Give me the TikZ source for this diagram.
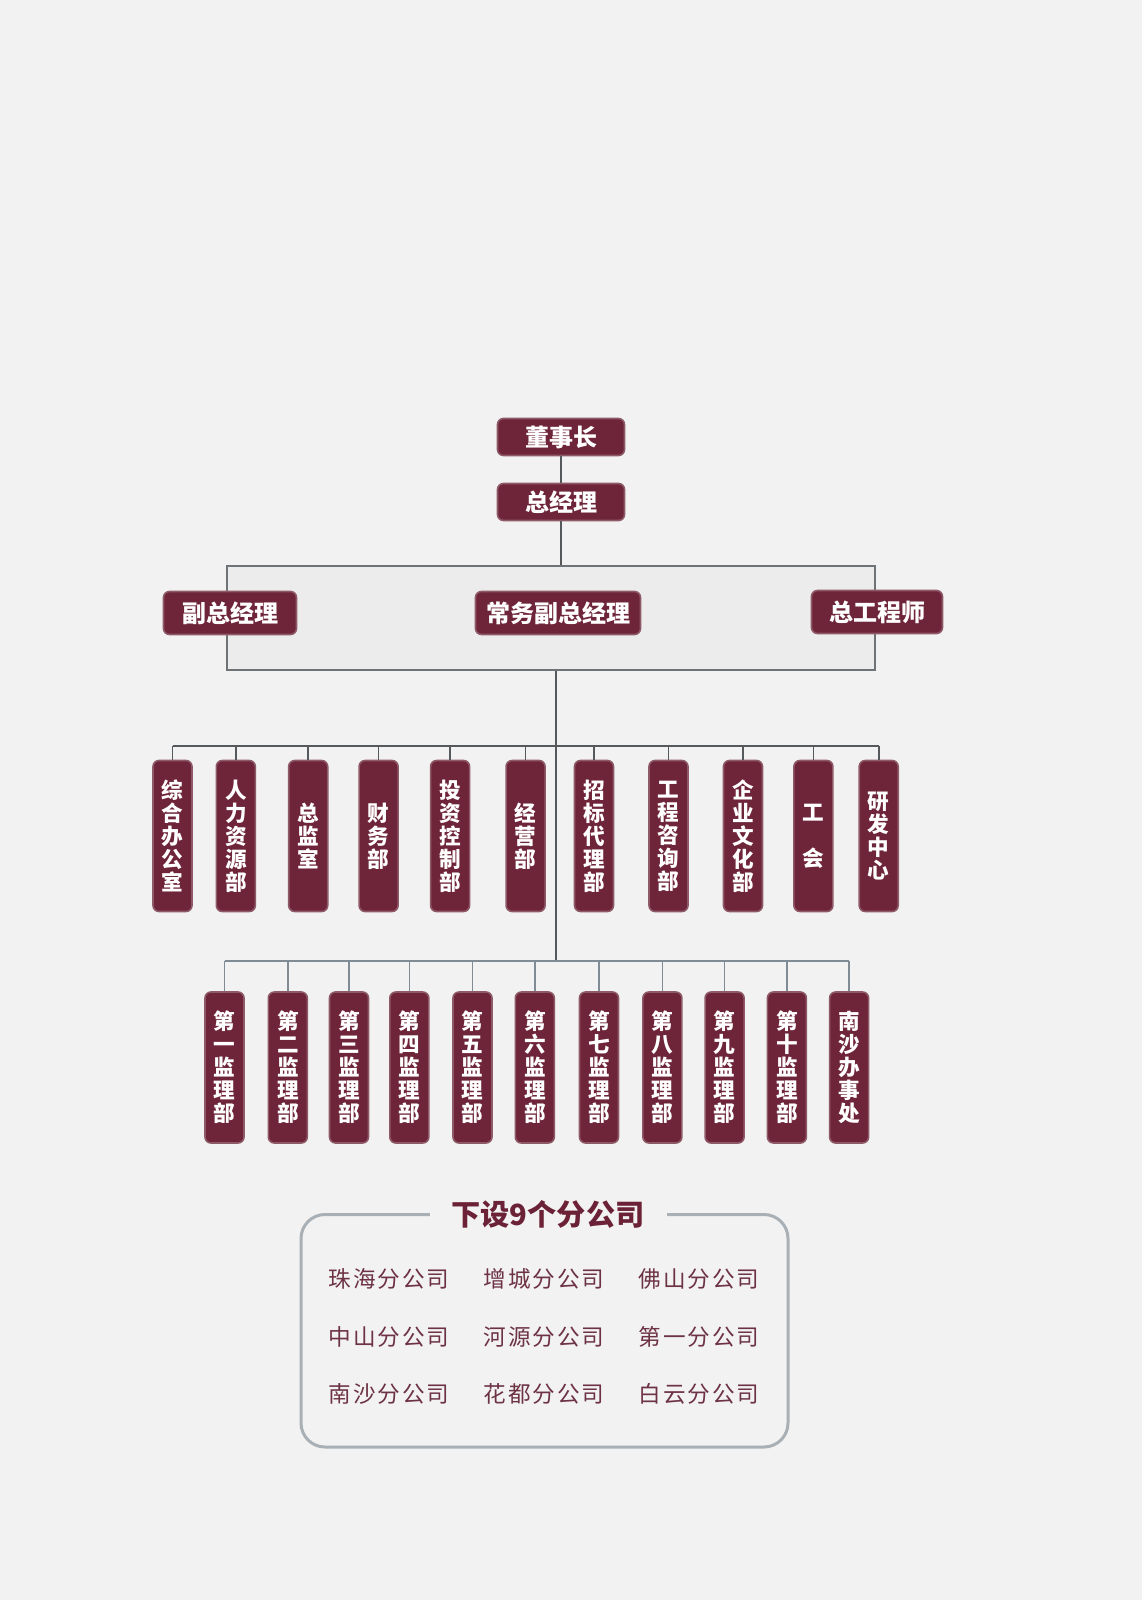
\documentclass[tikz,border=0pt]{standalone}
\usepackage{fontspec}
\newfontfamily\cjk{Noto Sans CJK SC}
\newfontfamily\cjkwide[LetterSpace=8]{Noto Sans CJK SC}
\definecolor{bg}{HTML}{F2F2F2}
\definecolor{boxred}{HTML}{6E2539}
\definecolor{boxedge}{HTML}{8E5A68}
\definecolor{linegray}{HTML}{55595C}
\definecolor{linebluegray}{HTML}{7F8C96}
\definecolor{framegray}{HTML}{6E7377}
\definecolor{panelgray}{HTML}{A8B0B6}
\definecolor{titlered}{HTML}{6B2236}
\definecolor{namered}{HTML}{6D3345}

\begin{document}
\begin{tikzpicture}[x=0.5pt, y=-0.5pt,
    post/.style={fill=boxred, draw=boxedge, line width=0.8pt, rounded corners=3pt,
      text=white, font=\cjk\bfseries\fontsize{12}{14}\selectfont, inner sep=0pt},
    dept/.style={fill=boxred, draw=boxedge, line width=0.8pt, rounded corners=3pt,
      text=white, minimum width=19.5pt, minimum height=75.5pt, inner sep=0pt,
      align=center, font=\cjk\bfseries\fontsize{10.8}{11.5}\selectfont},
    branch/.style={text=namered, font=\cjkwide\fontsize{11.3}{13}\selectfont}]

  \fill[bg] (0,0) rectangle (1142,1600);
  \useasboundingbox (0,0) rectangle (1142,1600);

  % management frame
  \node[draw=framegray, fill=bg!95!gray, line width=1pt, minimum width=324pt,
        minimum height=52pt, inner sep=0pt] (frame) at (551,618) {};

  \node[post, minimum width=63.5pt, minimum height=18.5pt] (chair) at (561,437) {董事长};
  \node[post, minimum width=63.5pt, minimum height=18.5pt] (gm) at (561,502) {总经理};
  \node[post, minimum width=66.5pt, minimum height=21.5pt] (vgm) at (230,613) {副总经理};
  \node[post, minimum width=82.5pt, minimum height=21.5pt] (evgm) at (558,613) {常务副总经理};
  \node[post, minimum width=65.5pt, minimum height=21.5pt] (ce) at (877,612) {总工程师};

  \draw[linegray, line width=0.8pt] (chair) -- (gm);
  \draw[linegray, line width=0.8pt] (gm.south) -- (gm.south |- frame.north);

  % departments
  \coordinate (b1) at (556,746);
  \coordinate (b2) at (556,961);

  \node[dept] (A1) at (172.5,836) {综\\合\\办\\公\\室};
  \node[dept] (A2) at (235.8,836) {人\\力\\资\\源\\部};
  \node[dept] (A3) at (308.2,836) {总\\监\\室};
  \node[dept] (A4) at (378.6,836) {财\\务\\部};
  \node[dept] (A5) at (450.1,836) {投\\资\\控\\制\\部};
  \node[dept] (A6) at (525.6,836) {经\\营\\部};
  \node[dept] (A7) at (594,836) {招\\标\\代\\理\\部};
  \node[dept] (A8) at (668.5,836) {工\\程\\咨\\询\\部};
  \node[dept] (A9) at (743,836) {企\\业\\文\\化\\部};
  \node[dept] (A10) at (813.4,836) {工\\[11.5pt]会};
  \node[dept] (A11) at (878.7,836) {研\\发\\中\\心};

  \draw[linegray, line width=0.8pt] (frame.south -| b1) -- (b2);
  \draw[linegray, line width=0.8pt] (A1 |- b1) -- (A11 |- b1);
  \path[linegray, line width=0.8pt] (A1) edge (A1 |- b1);
  \path[linegray, line width=0.8pt] (A2) edge (A2 |- b1);
  \path[linegray, line width=0.8pt] (A3) edge (A3 |- b1);
  \path[linegray, line width=0.8pt] (A4) edge (A4 |- b1);
  \path[linegray, line width=0.8pt] (A5) edge (A5 |- b1);
  \path[linegray, line width=0.8pt] (A6) edge (A6 |- b1);
  \path[linegray, line width=0.8pt] (A7) edge (A7 |- b1);
  \path[linegray, line width=0.8pt] (A8) edge (A8 |- b1);
  \path[linegray, line width=0.8pt] (A9) edge (A9 |- b1);
  \path[linegray, line width=0.8pt] (A10) edge (A10 |- b1);
  \path[linegray, line width=0.8pt] (A11) edge (A11 |- b1);

  % supervision departments
  \node[dept] (B1) at (224.5,1067.5) {第\\一\\监\\理\\部};
  \node[dept] (B2) at (287.8,1067.5) {第\\二\\监\\理\\部};
  \node[dept] (B3) at (349,1067.5) {第\\三\\监\\理\\部};
  \node[dept] (B4) at (409.3,1067.5) {第\\四\\监\\理\\部};
  \node[dept] (B5) at (472.5,1067.5) {第\\五\\监\\理\\部};
  \node[dept] (B6) at (534.8,1067.5) {第\\六\\监\\理\\部};
  \node[dept] (B7) at (599,1067.5) {第\\七\\监\\理\\部};
  \node[dept] (B8) at (662.4,1067.5) {第\\八\\监\\理\\部};
  \node[dept] (B9) at (724.6,1067.5) {第\\九\\监\\理\\部};
  \node[dept] (B10) at (786.9,1067.5) {第\\十\\监\\理\\部};
  \node[dept] (B11) at (849.1,1067.5) {南\\沙\\办\\事\\处};

  \draw[linebluegray, line width=0.8pt] (B1 |- b2) -- (B11 |- b2);
  \path[linebluegray, line width=0.8pt] (B1) edge (B1 |- b2);
  \path[linebluegray, line width=0.8pt] (B2) edge (B2 |- b2);
  \path[linebluegray, line width=0.8pt] (B3) edge (B3 |- b2);
  \path[linebluegray, line width=0.8pt] (B4) edge (B4 |- b2);
  \path[linebluegray, line width=0.8pt] (B5) edge (B5 |- b2);
  \path[linebluegray, line width=0.8pt] (B6) edge (B6 |- b2);
  \path[linebluegray, line width=0.8pt] (B7) edge (B7 |- b2);
  \path[linebluegray, line width=0.8pt] (B8) edge (B8 |- b2);
  \path[linebluegray, line width=0.8pt] (B9) edge (B9 |- b2);
  \path[linebluegray, line width=0.8pt] (B10) edge (B10 |- b2);
  \path[linebluegray, line width=0.8pt] (B11) edge (B11 |- b2);

  % branch companies
  \draw[panelgray, line width=1.5pt, rounded corners=12pt] (301,1214.5) rectangle (788,1447);
  \node[fill=bg, inner xsep=11pt, inner ysep=2pt, text=titlered,
        font=\cjk\bfseries\fontsize{14.6}{16}\selectfont] (title) at (548,1214.5) {下设9个分公司};

  \node[branch] (C1) at (389,1279) {珠海分公司};
  \node[branch] (C2) at (544,1279) {增城分公司};
  \node[branch] (C3) at (699,1279) {佛山分公司};
  \node[branch] (C4) at (389,1337) {中山分公司};
  \node[branch] (C5) at (544,1337) {河源分公司};
  \node[branch] (C6) at (699,1337) {第一分公司};
  \node[branch] (C7) at (389,1394) {南沙分公司};
  \node[branch] (C8) at (544,1394) {花都分公司};
  \node[branch] (C9) at (699,1394) {白云分公司};
\end{tikzpicture}
\end{document}
